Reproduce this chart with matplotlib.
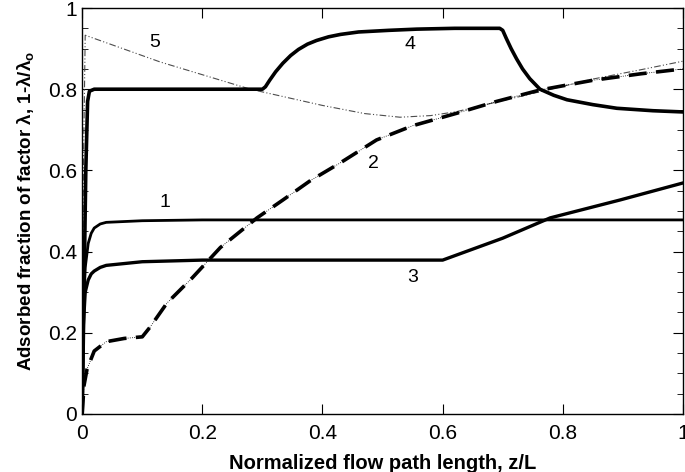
import numpy as np
import matplotlib.pyplot as plt
from matplotlib.ticker import MultipleLocator

plt.rcParams['font.family'] = ['Liberation Sans', 'DejaVu Sans']
plt.rcParams['mathtext.fontset'] = 'custom'
plt.rcParams['mathtext.rm'] = 'Liberation Sans'
plt.rcParams['mathtext.bf'] = 'Liberation Sans:bold'

# curve 1
x1 = [0, 0.002, 0.005, 0.01, 0.015, 0.02, 0.03, 0.04, 0.1, 0.2, 1.0]
y1 = [0, 0.25, 0.36, 0.42, 0.445, 0.458, 0.468, 0.472, 0.476, 0.478, 0.478]
# curve 2 (dashed)
x2 = [0, 0.003, 0.008, 0.02, 0.04, 0.07, 0.1, 0.113, 0.141, 0.183, 0.23, 0.291,
      0.334, 0.38, 0.429, 0.49, 0.55, 0.624, 0.69, 0.762, 0.85, 0.93, 1.0]
y2 = [0, 0.07, 0.11, 0.155, 0.178, 0.186, 0.19, 0.214, 0.273, 0.335, 0.41, 0.483,
      0.527, 0.575, 0.618, 0.675, 0.71, 0.741, 0.77, 0.798, 0.822, 0.838, 0.85]
# curve 3
x3 = [0, 0.002, 0.005, 0.01, 0.015, 0.02, 0.03, 0.04, 0.1, 0.2, 0.6, 0.7, 0.779,
      0.895, 1.0]
y3 = [0, 0.22, 0.3, 0.33, 0.345, 0.352, 0.361, 0.366, 0.375, 0.379, 0.379, 0.433,
      0.483, 0.527, 0.569]
# curve 4
x4 = [0, 0.003, 0.006, 0.009, 0.012, 0.02, 0.3, 0.305, 0.312, 0.322, 0.334, 0.347,
      0.36, 0.375, 0.39, 0.41, 0.43, 0.46, 0.51, 0.557, 0.62, 0.695, 0.7, 0.706,
      0.714, 0.723, 0.733, 0.745, 0.762, 0.785, 0.807, 0.85, 0.89, 0.95, 1.0]
y4 = [0, 0.3, 0.6, 0.77, 0.795, 0.8, 0.8, 0.806, 0.822, 0.843, 0.864, 0.883,
      0.898, 0.911, 0.92, 0.929, 0.935, 0.941, 0.945, 0.948, 0.95, 0.95, 0.945,
      0.925, 0.9, 0.875, 0.85, 0.826, 0.80, 0.785, 0.774, 0.762, 0.753, 0.747, 0.744]
# curve 5 (thin dash-dot-dot)
x5 = [0, 0.002, 0.005, 0.13, 0.28, 0.4, 0.47, 0.529, 0.58, 0.624, 0.7, 0.78,
      0.85, 0.93, 1.0]
y5 = [0, 0.6, 0.933, 0.867, 0.80, 0.76, 0.74, 0.731, 0.735, 0.745, 0.772, 0.80,
      0.825, 0.848, 0.869]

labels = ['1', '2', '3', '4', '5']
label_x = [0.138, 0.484, 0.55, 0.546, 0.121]
label_y = [0.52, 0.618, 0.335, 0.909, 0.914]

fig = plt.figure(figsize=(6.85, 4.72), dpi=100)
ax = fig.add_axes([0.12, 0.123, 0.877, 0.860])

ax.plot(x5, y5, color='0.3', lw=0.8, linestyle=(0, (6, 2, 1, 2, 1, 2)))
ax.plot(x1, y1, color='black', lw=2.0)
ax.plot(x3, y3, color='black', lw=2.4)
ax.plot(x4, y4, color='black', lw=2.6)
ax.plot(x2, y2, color='black', lw=0.6, linestyle=':')
ax.plot(x2, y2, color='black', lw=2.6, linestyle=(0, (5, 2.6)))

for t, tx, ty in zip(labels, label_x, label_y):
    ax.text(tx, ty, t, fontsize=14, ha='center', va='center')

ax.set_xlim(0, 1)
ax.set_ylim(0, 1)
ax.yaxis.set_minor_locator(MultipleLocator(0.05))
ax.set_xticks([0, 0.2, 0.4, 0.6, 0.8, 1])
ax.set_xticklabels(['0', '0.2', '0.4', '0.6', '0.8', '1'])
ax.set_yticks([0, 0.2, 0.4, 0.6, 0.8, 1])
ax.set_yticklabels(['0', '0.2', '0.4', '0.6', '0.8', '1'])
ax.tick_params(which='both', direction='in', top=True, right=True, labelsize=15)
ax.tick_params(which='major', length=7)
ax.tick_params(which='minor', length=4)
ax.tick_params(axis='x', pad=7)
for s in ax.spines.values():
    s.set_linewidth(1.0)

ax.set_xlabel('Normalized flow path length, z/L', fontsize=14.5, fontweight='bold',
              labelpad=8)
ax.set_ylabel(r'Adsorbed fraction of factor λ, 1-λ/λ$_\mathbf{o}$', fontsize=13.5,
              fontweight='bold', labelpad=8)

fig.savefig('out.png', dpi=100)
